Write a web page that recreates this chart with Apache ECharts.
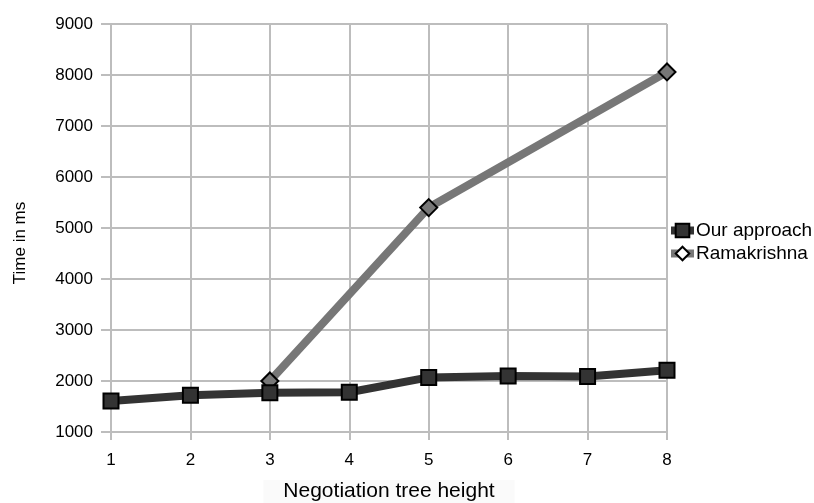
<!DOCTYPE html>
<html><head><meta charset="utf-8">
<script src="https://cdn.jsdelivr.net/npm/echarts@6/dist/echarts.min.js"></script>
<style>html,body{margin:0;padding:0;background:#fff}#c{width:814px;height:503px}</style>
</head><body><div id="c"></div>
<script>
var categories = ['1','2','3','4','5','6','7','8'];
var ourApproach = [1610, 1720, 1770, 1780, 2070, 2100, 2090, 2210];
var ramakrishna = [null, null, 2000, null, 5400, null, null, 8060];
var chart = echarts.init(document.getElementById('c'));
var font = 'Liberation Sans, Arial, sans-serif';
var gridColor = '#bdbdbd';
chart.setOption({
  animation: false,
  backgroundColor: '#fff',
  grid: {left: 111, right: 147, top: 24, bottom: 71, containLabel: false, outerBoundsMode: 'none'},
  legend: {
    orient: 'vertical', left: 662, top: 216, itemGap: 4, itemWidth: 23, itemHeight: 17,
    lineStyle: {width: 8},
    textStyle: {fontFamily: font, fontSize: 19, lineHeight: 17, color: '#000', padding: [0,0,0,-3]},
    data: [
      {name: 'Our approach'},
      {name: 'Ramakrishna', itemStyle: {color: '#ffffff', borderColor: '#000', borderWidth: 2}}
    ]
  },
  xAxis: {
    type: 'category', data: categories, boundaryGap: false,
    name: 'Negotiation tree height', nameLocation: 'middle', nameGap: 48,
    nameTextStyle: {fontFamily: font, fontSize: 21, color: '#000', backgroundColor: '#fafafa', padding: [1, 20, 4, 20]},
    axisLine: {lineStyle: {color: gridColor, width: 2}},
    axisTick: {show: true, length: 8, lineStyle: {color: gridColor, width: 2}, alignWithLabel: true},
    axisLabel: {fontFamily: font, fontSize: 17, color: '#000', margin: 20},
    splitLine: {show: true, lineStyle: {color: gridColor, width: 2}}
  },
  yAxis: {
    type: 'value', min: 1000, max: 9000, interval: 1000,
    name: 'Time in ms', nameLocation: 'middle', nameGap: 82,
    nameTextStyle: {fontFamily: font, fontSize: 17, color: '#000', padding: [0, 30, 0, 0]},
    axisLine: {show: true, lineStyle: {color: gridColor, width: 2}},
    axisTick: {show: true, length: 10, lineStyle: {color: gridColor, width: 2}},
    axisLabel: {fontFamily: font, fontSize: 17, color: '#000', margin: 18, formatter: function (v) { return String(v); }},
    splitLine: {show: true, lineStyle: {color: gridColor, width: 2}}
  },
  series: [
    {
      name: 'Our approach', type: 'line', data: ourApproach,
      symbol: 'rect', symbolSize: 15,
      lineStyle: {color: '#333333', width: 8},
      itemStyle: {color: '#333333', borderColor: '#000', borderWidth: 2},
      z: 3
    },
    {
      name: 'Ramakrishna', type: 'line', data: ramakrishna, connectNulls: true,
      symbol: 'diamond', symbolSize: 17,
      lineStyle: {color: '#777777', width: 8},
      itemStyle: {color: '#777777', borderColor: '#000', borderWidth: 2},
      z: 2
    }
  ]
});
</script></body></html>
